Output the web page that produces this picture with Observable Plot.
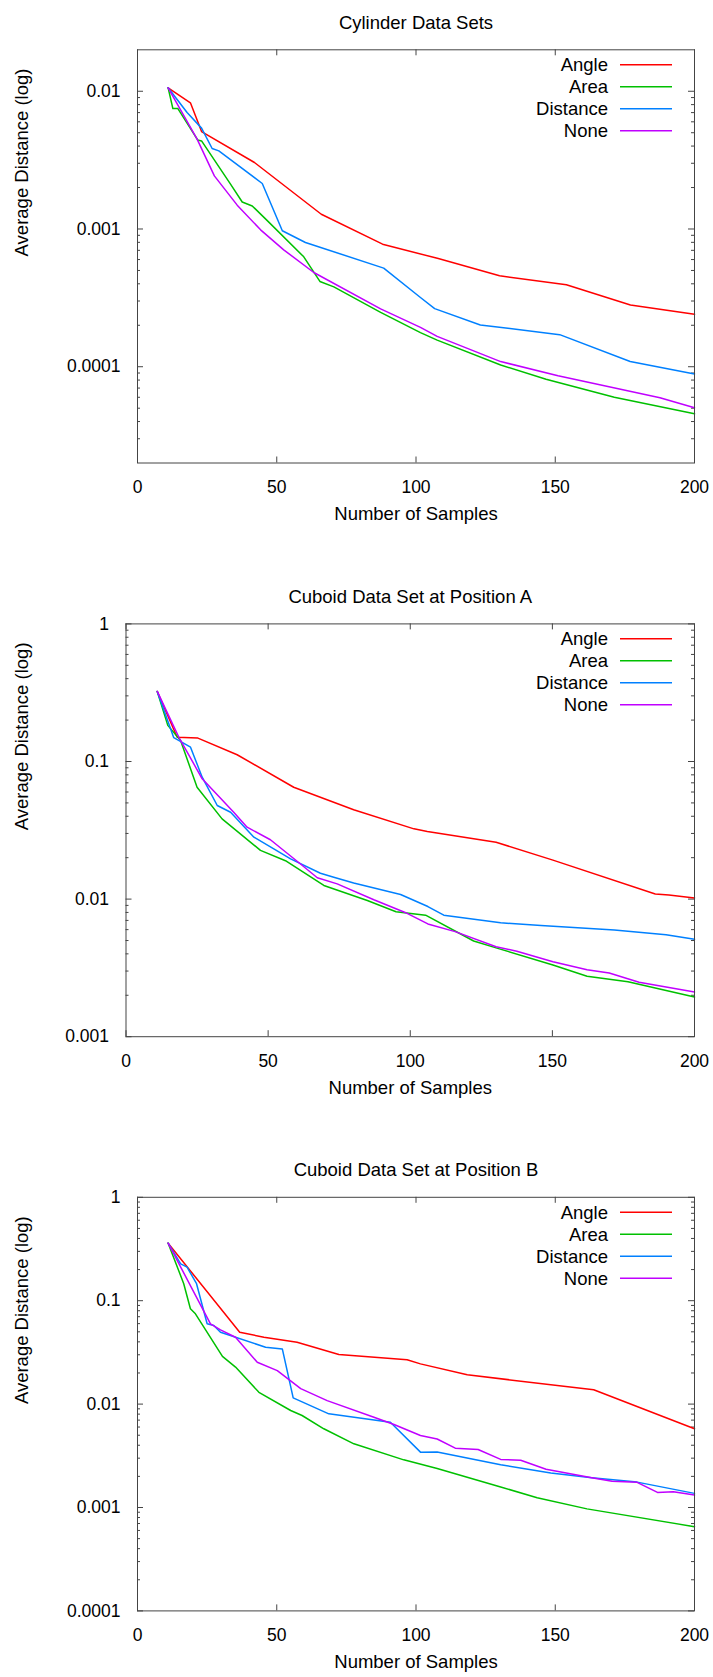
<!DOCTYPE html>
<html><head><meta charset="utf-8">
<script src="https://cdn.jsdelivr.net/npm/d3@7"></script>
<script src="https://cdn.jsdelivr.net/npm/@observablehq/plot@0.6"></script>
<style>body{margin:0;background:#fff} #chart svg{display:block}</style>
</head><body><div id="chart"></div>
<script>
const seriesNames = ["Angle", "Area", "Distance", "None"];
const seriesColors = ["#ff0000", "#00c000", "#0080ff", "#c000ff"];
const xTicks = [0, 50, 100, 150, 200];
const titles = ["Cylinder Data Sets", "Cuboid Data Set at Position A", "Cuboid Data Set at Position B"];
const xLabel = "Number of Samples";
const yLabel = "Average Distance (log)";

// Panel 1: Cylinder
const cylYTicks = [0.01, 0.001, 0.0001];
const cylAngleX = [11, 19, 23, 42, 66, 88, 108, 130, 154, 177, 200];
const cylAngleY = [0.0106, 0.00824, 0.0051, 0.00304, 0.00128, 0.000776, 0.00061, 0.000457, 0.000394, 0.000281, 0.00024];
const cylAreaX = [11, 12.7, 14.5, 21.6, 23, 33.4, 37.6, 41.2, 46.6, 59.7, 65.5, 70.5, 87.3, 101.6, 107.6, 130.4, 146.7, 171.2, 200];
const cylAreaY = [0.0106, 0.00749, 0.00749, 0.00443, 0.00436, 0.00212, 0.00157, 0.00147, 0.00115, 0.000628, 0.000416, 0.00038, 0.000248, 0.000177, 0.000156, 0.000103, 0.000081, 0.00006, 0.0000455];
const cylDistX = [11, 17.8, 23, 26.8, 29.2, 44.8, 52, 60.3, 88.4, 101.6, 106.7, 123.1, 151.6, 176.9, 200];
const cylDistY = [0.0106, 0.00701, 0.0054, 0.00384, 0.00369, 0.00214, 0.000971, 0.000798, 0.00052, 0.000318, 0.000264, 0.000201, 0.000171, 0.000109, 0.0000887];
const cylNoneX = [11, 21.4, 27.6, 35.8, 44.2, 52.5, 63.3, 87.3, 101.6, 107.6, 130.4, 151, 187.6, 200];
const cylNoneY = [0.0106, 0.00449, 0.00243, 0.00149, 0.000986, 0.000706, 0.000483, 0.000263, 0.000193, 0.000166, 0.000109, 0.000086, 0.0000596, 0.0000503];

// Panel 2: Cuboid A
const aYTicks = [1, 0.1, 0.01, 0.001];
const aAngleX = [11, 18, 25.3, 39.1, 59, 80.1, 101.3, 106, 130.2, 150.2, 186.2, 191, 200];
const aAngleY = [0.323, 0.150, 0.148, 0.112, 0.065, 0.0446, 0.0324, 0.031, 0.0259, 0.0192, 0.0109, 0.0107, 0.0102];
const aAreaX = [11, 14.7, 19.2, 25, 33.8, 47.3, 56.1, 69.6, 84.9, 95, 105.4, 122.3, 130.2, 150.2, 162.2, 176.6, 200];
const aAreaY = [0.323, 0.183, 0.142, 0.065, 0.0383, 0.0226, 0.019, 0.01256, 0.00977, 0.0081, 0.00764, 0.00496, 0.00442, 0.00332, 0.00275, 0.00251, 0.00194];
const aDistX = [11, 16.3, 16.8, 22.7, 26.8, 32.1, 36.8, 45, 52, 57.9, 68.4, 73.1, 80.1, 96.6, 106.2, 111.8, 131.8, 146, 171.8, 190, 200];
const aDistY = [0.323, 0.159, 0.149, 0.127, 0.0769, 0.0479, 0.0428, 0.0282, 0.0232, 0.0196, 0.0154, 0.0144, 0.0131, 0.0108, 0.00883, 0.00764, 0.00673, 0.00643, 0.00596, 0.0055, 0.0051];
const aNoneX = [11, 18.6, 26.8, 37.9, 42.6, 50.8, 61.4, 67.3, 74.3, 87.2, 98.2, 106.2, 115.8, 130.2, 137.5, 150.2, 162.2, 170, 180.5, 200];
const aNoneY = [0.323, 0.150, 0.0749, 0.0428, 0.0333, 0.027, 0.018, 0.0143, 0.0129, 0.00989, 0.008, 0.0066, 0.0058, 0.0045, 0.00418, 0.00351, 0.00307, 0.0029, 0.00249, 0.00211];

// Panel 3: Cuboid B
const bYTicks = [1, 0.1, 0.01, 0.001, 0.0001];
const bAngleX = [11, 36.7, 45.4, 57.3, 72.3, 96.8, 101.6, 118.4, 163.8, 200];
const bAngleY = [0.36, 0.0496, 0.0443, 0.0397, 0.0302, 0.0268, 0.0245, 0.0192, 0.01375, 0.00577];
const bAreaX = [11, 16.6, 19, 20.8, 30.5, 35.2, 43.6, 55, 59.1, 66.9, 77.7, 95.6, 107.6, 130.4, 143.5, 161.4, 200];
const bAreaY = [0.36, 0.146, 0.0835, 0.0747, 0.0289, 0.0228, 0.013, 0.00867, 0.00776, 0.00577, 0.00413, 0.00289, 0.00238, 0.00158, 0.00124, 0.00097, 0.000653];
const bDistX = [11, 15.5, 17.8, 21.2, 25, 27.4, 29.8, 46, 52, 55.9, 68.7, 90.8, 101.6, 107.6, 130.4, 148.4, 163.1, 179.4, 200];
const bDistY = [0.36, 0.227, 0.211, 0.146, 0.0598, 0.0576, 0.0496, 0.0355, 0.0342, 0.0115, 0.00805, 0.00668, 0.00343, 0.00345, 0.00259, 0.00216, 0.00194, 0.00176, 0.00137];
const bNoneX = [11, 26.2, 29.8, 35.2, 43, 50.2, 58.6, 68.1, 84.9, 92.1, 101.6, 107.6, 114.1, 122.3, 130.4, 137.6, 146.7, 163.1, 170.4, 179.4, 186.7, 192.4, 200];
const bNoneY = [0.36, 0.0598, 0.0523, 0.0443, 0.0254, 0.0211, 0.0141, 0.0108, 0.00746, 0.00635, 0.00497, 0.0046, 0.00375, 0.00364, 0.00292, 0.00286, 0.00234, 0.00194, 0.00179, 0.00175, 0.0014, 0.00142, 0.00132];

function rowsOf(pairs) {
  return pairs.flatMap(([xs, ys], i) => xs.map((x, j) => ({series: seriesNames[i], x, y: ys[j]})));
}

const FONT = "'Liberation Sans', Arial, Helvetica, sans-serif";
const W = 713, MR = 19, FRAME = "#444";

function panel({title, rows, yDomain, yTicks, height, mt, mb, ml}) {
  const pw = W - ml - MR, ph = height - mt - mb;
  const lo = Math.log10(yDomain[0]), hi = Math.log10(yDomain[1]);
  const minor = [];
  for (let e = Math.floor(lo); e < Math.ceil(hi); e++)
    for (let k = 2; k <= 9; k++) { const v = k * Math.pow(10, e); if (v > yDomain[0] * 1.0001 && v < yDomain[1] * 0.9999) minor.push(v); }
  const plot = Plot.plot({
    width: W, height, marginTop: mt, marginBottom: mb, marginLeft: ml, marginRight: MR,
    style: {fontFamily: FONT, fontSize: "17.5px", color: "#000", background: "#fff"},
    x: {domain: [0, 200]},
    y: {type: "log", domain: yDomain},
    color: {domain: seriesNames, range: seriesColors},
    marks: [
      Plot.axisX({ticks: xTicks, tickSize: 0, tickPadding: 18, tickFormat: d => String(d), label: null}),
      Plot.axisY({ticks: yTicks, tickSize: 0, tickPadding: 17, tickFormat: d => String(d), label: null}),
      Plot.ruleX(xTicks, {x: d => d, insetTop: ph - 6, stroke: FRAME}),
      Plot.ruleX(xTicks, {x: d => d, insetBottom: ph - 6, stroke: FRAME}),
      Plot.ruleY(yTicks, {y: d => d, insetRight: pw - 6, stroke: FRAME}),
      Plot.ruleY(yTicks, {y: d => d, insetLeft: pw - 6, stroke: FRAME}),
      Plot.ruleY(minor, {y: d => d, insetRight: pw - 3, stroke: FRAME}),
      Plot.ruleY(minor, {y: d => d, insetLeft: pw - 3, stroke: FRAME}),
      Plot.line(rows, {x: "x", y: "y", stroke: "series", z: "series", strokeWidth: 1.5}),
      Plot.frame({stroke: FRAME}),
      Plot.text([title], {frameAnchor: "top", dy: -34, fontSize: 18.5, fill: "#000"}),
      Plot.text([yLabel], {frameAnchor: "left", rotate: -90, dx: 22 - ml, fontSize: 18.5, fill: "#000"}),
      Plot.text([xLabel], {frameAnchor: "bottom", dy: 57, fontSize: 18.5, fill: "#000"})
    ]
  });
  const g = d3.select(plot).append("g").attr("font-family", FONT).attr("font-size", 18.5);
  seriesNames.forEach((name, i) => {
    const y = mt + 15.4 + 22 * i;
    g.append("text").attr("x", W - MR - 86).attr("y", y).attr("dy", "0.35em").attr("text-anchor", "end").attr("fill", "#000").text(name);
    g.append("line").attr("x1", W - MR - 74).attr("x2", W - MR - 22).attr("y1", y).attr("y2", y)
      .attr("stroke", seriesColors[i]).attr("stroke-width", 1.5);
  });
  return plot;
}

const chart = document.getElementById("chart");
chart.append(panel({
  title: titles[0],
  rows: rowsOf([[cylAngleX, cylAngleY], [cylAreaX, cylAreaY], [cylDistX, cylDistY], [cylNoneX, cylNoneY]]),
  yDomain: [0.00002, 0.02], yTicks: cylYTicks, height: 560, mt: 49.3, mb: 97.5, ml: 137
}));
chart.append(panel({
  title: titles[1],
  rows: rowsOf([[aAngleX, aAngleY], [aAreaX, aAreaY], [aDistX, aDistY], [aNoneX, aNoneY]]),
  yDomain: [0.001, 1], yTicks: aYTicks, height: 540, mt: 63.4, mb: 63.8, ml: 125.5
}));
chart.append(panel({
  title: titles[2],
  rows: rowsOf([[bAngleX, bAngleY], [bAreaX, bAreaY], [bDistX, bDistY], [bNoneX, bNoneY]]),
  yDomain: [0.0001, 1], yTicks: bYTicks, height: 577, mt: 96.8, mb: 66.6, ml: 137
}));
</script>
</body></html>
